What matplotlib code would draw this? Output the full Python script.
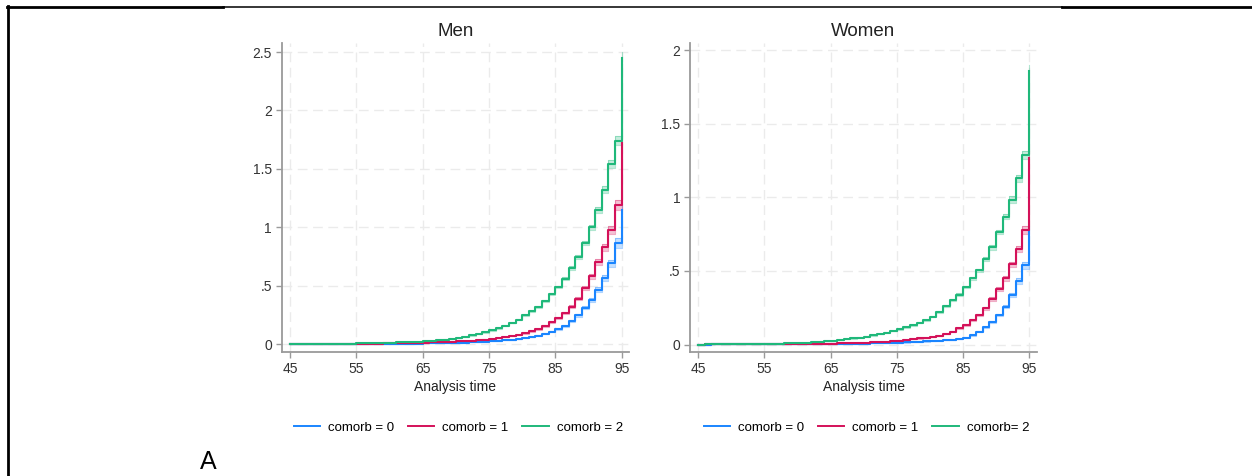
import matplotlib.pyplot as plt
import numpy as np
from matplotlib.lines import Line2D

plt.rcParams['font.family'] = ['Liberation Sans', 'DejaVu Sans']

ages = np.arange(45, 96)

# Nelson-Aalen cumulative hazard, step value from each age (45..94), last value = jump at 95
men_c0 = [0, .00005, .0001, .00015, .0002, .0003, .0004, .0005, .0007, .0009,
          .0011, .0013, .0015, .0018, .0021, .0025, .003, .0035, .004, .0046,
          .0053, .006, .007, .0082, .0095, .011, .013, .015, .0175, .02,
          .023, .027, .032, .037, .043, .05, .06, .073, .088, .105,
          .128, .157, .195, .245, .31, .38, .465, .565, .69, .865, 1.15]
men_c1 = [0, .0001, .0002, .0003, .0005, .0007, .0009, .0012, .0015, .0019,
          .0023, .0028, .0034, .004, .0048, .0057, .0067, .0078, .009, .0105,
          .012, .014, .016, .0185, .021, .022, .025, .029, .033, .038,
          .044, .051, .059, .068, .079, .092, .108, .127, .155, .185,
          .22, .265, .32, .39, .48, .58, .70, .83, .98, 1.19, 1.72]
men_c2 = [0, .0002, .0005, .0008, .0012, .0017, .0023, .003, .0038, .0047,
          .0057, .0068, .008, .0093, .0107, .0122, .014, .016, .0185, .021,
          .024, .028, .033, .039, .046, .054, .063, .074, .087, .101,
          .117, .135, .156, .18, .21, .245, .28, .32, .37, .43,
          .49, .56, .65, .745, .865, 1.0, 1.15, 1.32, 1.54, 1.74, 2.45]

women_c0 = [0, .00002, .00004, .00007, .0001, .00015, .0002, .0003, .0004, .0005,
            .0006, .0007, .0008, .0009, .001, .0012, .0014, .0017, .002, .0024,
            .0028, .0033, .0039, .0046, .0054, .0063, .0073, .0085, .0097, .011,
            .012, .014, .016, .018, .021, .024, .027, .029, .032, .038,
            .046, .064, .087, .116, .155, .20, .257, .335, .43, .54, .77]
women_c1 = [0, .00003, .00006, .0001, .00015, .0002, .0003, .0004, .0005, .0007,
            .0009, .0011, .0014, .0017, .0021, .0026, .0032, .0039, .0047, .0056,
            .0066, .0075, .0085, .0097, .011, .0125, .0145, .0165, .019, .023,
            .027, .031, .036, .041, .046, .051, .058, .071, .087, .11,
            .132, .166, .20, .245, .31, .375, .45, .545, .65, .78, 1.27]
women_c2 = [0, .0002, .0004, .0006, .0009, .0012, .0017, .0022, .0028, .0035,
            .0043, .0052, .0063, .0077, .0093, .011, .013, .0155, .0185, .022,
            .026, .030, .035, .041, .047, .054, .062, .071, .081, .092,
            .104, .117, .131, .147, .166, .19, .22, .26, .30, .34,
            .39, .45, .505, .58, .66, .765, .87, .985, 1.13, 1.29, 1.86]

# relative half-width of the 95% band, as read at the oldest ages
band_rel = [0.045, 0.035, 0.022]

colors = ['#1a85ff', '#d41159', '#1fb87a']
labels_men = ['comorb = 0', 'comorb = 1', 'comorb = 2']
labels_women = ['comorb = 0', 'comorb = 1', 'comorb= 2']

panels = [
    ('Men', [men_c0, men_c1, men_c2], labels_men,
     [0.225, 0.2605, 0.2774, 0.649], (-0.068, 2.577), (43.75, 96.1),
     [0, .5, 1, 1.5, 2, 2.5], ['0', '.5', '1', '1.5', '2', '2.5'], 0.366),
    ('Women', [women_c0, women_c1, women_c2], labels_women,
     [0.5511, 0.2605, 0.2772, 0.649], (-0.051, 2.05), (43.75, 96.2),
     [0, .5, 1, 1.5, 2], ['0', '.5', '1', '1.5', '2'], 0.692),
]

fig = plt.figure(figsize=(12.52, 4.76), dpi=100)
spine_col = '#9a9a9a'

for title, series, labels, rect, ylim, xlim, yt, ytl, legx in panels:
    ax = fig.add_axes(rect)
    for vals, col, rel in zip(series, colors, band_rel):
        v = np.array(vals)
        lo = v * (1 - rel)
        hi = v * (1 + rel)
        ax.fill_between(ages, lo, hi, step='post', color=col, alpha=0.25,
                        lw=0, zorder=2)
        ax.step(ages, lo, where='post', color=col, alpha=0.35, lw=0.8, zorder=2)
        ax.step(ages, hi, where='post', color=col, alpha=0.35, lw=0.8, zorder=2)
        ax.step(ages, v, where='post', color=col, lw=1.5, zorder=3)
    ax.set_xlim(*xlim)
    ax.set_ylim(*ylim)
    ax.set_xticks(np.arange(45, 96, 10))
    ax.set_yticks(yt)
    ax.set_yticklabels(ytl)
    ax.grid(True, color='#ebebeb', ls=(0, (7, 4)), lw=1.0)
    ax.set_axisbelow(True)
    for s in ['top', 'right']:
        ax.spines[s].set_visible(False)
    for s in ['left', 'bottom']:
        ax.spines[s].set_color(spine_col)
        ax.spines[s].set_linewidth(1.3)
    ax.tick_params(colors='#333333', labelsize=10, length=4, width=1,
                   color=spine_col, pad=3)
    ax.set_title(title, fontsize=13.5, pad=5, color='#222222')
    ax.set_xlabel('Analysis time', fontsize=10, labelpad=3, color='#222222')
    handles = [Line2D([], [], color=c, lw=1.4) for c in colors]
    fig.legend(handles, labels, loc='center', bbox_to_anchor=(legx, 0.101),
               ncol=3, frameon=False, fontsize=9.5, handlelength=2.0,
               handletextpad=0.6, columnspacing=1.05)

fig.text(0.166, 0.029, 'A', fontsize=18, ha='center', va='center')

# frame lines of the original figure
fig.add_artist(Line2D([7 / 1252, 223 / 1252], [1 - 7.3 / 476] * 2, color='k', lw=2.0))
fig.add_artist(Line2D([223 / 1252, 1062 / 1252], [1 - 7 / 476] * 2, color='k', lw=1.1))
fig.add_artist(Line2D([1062 / 1252, 1], [1 - 7.3 / 476] * 2, color='k', lw=2.0))
fig.add_artist(Line2D([8 / 1252] * 2, [1 - 6.3 / 476, 0], color='k', lw=2.0))

fig.savefig('out.png', dpi=100)
